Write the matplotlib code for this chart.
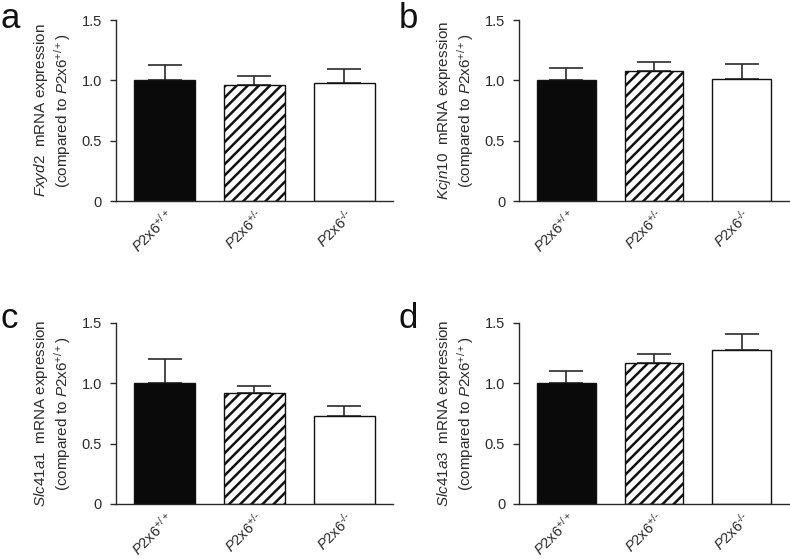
# P2x6 knockout - mRNA expression of four kidney genes
import numpy as np
import matplotlib
matplotlib.use("Agg")
import matplotlib.pyplot as plt

plt.rcParams['font.family'] = ['Liberation Sans', 'DejaVu Sans']
plt.rcParams['mathtext.fontset'] = 'custom'
plt.rcParams['mathtext.rm'] = 'Liberation Sans'
plt.rcParams['mathtext.it'] = 'Liberation Sans:italic'
plt.rcParams['hatch.linewidth'] = 1.8

# Data
genotypes = ['$\\mathit{P}\\mathrm{2x6}^{+/+}$',
             '$\\mathit{P}\\mathrm{2x6}^{+/\u2010}$',
             '$\\mathit{P}\\mathrm{2x6}^{\u2010/\u2010}$']
genes = ['Fxyd2', 'Kcjn10', 'Slc41a1', 'Slc41a3']
panel_letters = ['a', 'b', 'c', 'd']

fxyd2_mean = [1.00, 0.965, 0.98]
fxyd2_sem = [0.125, 0.075, 0.115]
kcjn10_mean = [1.00, 1.08, 1.013]
kcjn10_sem = [0.10, 0.07, 0.122]
slc41a1_mean = [1.00, 0.92, 0.732]
slc41a1_sem = [0.20, 0.058, 0.076]
slc41a3_mean = [1.00, 1.168, 1.278]
slc41a3_sem = [0.10, 0.075, 0.133]

means = [fxyd2_mean, kcjn10_mean, slc41a1_mean, slc41a3_mean]
sems = [fxyd2_sem, kcjn10_sem, slc41a1_sem, slc41a3_sem]

yticks = [0, 0.5, 1.0, 1.5]
ytick_labels = ['0', '0.5', '1.0', '1.5']

fill_colors = ['#0a0a0a', 'white', 'white']
hatches = [None, '///', None]

# axes boxes in figure fraction [left, bottom, width, height]
boxes = [[0.1468, 0.6404, 0.3506, 0.3238],
         [0.657, 0.6404, 0.3418, 0.3238],
         [0.1468, 0.0984, 0.3506, 0.3238],
         [0.657, 0.0984, 0.3418, 0.3238]]
letter_pos = [(0.0, 0.95), (0.505, 0.95), (0.0, 0.413), (0.505, 0.413)]

fig = plt.figure(figsize=(7.9, 5.59), dpi=100)
grey = '#2a2a2a'

for i in range(4):
    ax = fig.add_axes(boxes[i])
    x = np.arange(3)
    ax.bar(x, means[i], width=0.67, color=fill_colors, edgecolor='#111111',
           linewidth=1.0, hatch=hatches, zorder=2)
    ax.errorbar(x, means[i], yerr=[np.zeros(3), sems[i]], fmt='none',
                ecolor=grey, elinewidth=1.2, capsize=12.5, capthick=1.2, zorder=1)

    ax.set_ylim(0, 1.5)
    ax.set_xlim(-0.54, 2.54)
    ax.set_yticks(yticks)
    ax.set_yticklabels(ytick_labels)
    ax.set_xticks(x)
    ax.set_xticklabels(genotypes, rotation=45, ha='right', rotation_mode='anchor')
    ax.tick_params(axis='x', length=0, pad=4, labelsize=10.5, colors=grey)
    ax.tick_params(axis='y', length=4, width=1, pad=6, labelsize=10.5, colors=grey)
    for s in ['top', 'right']:
        ax.spines[s].set_visible(False)
    for s in ['left', 'bottom']:
        ax.spines[s].set_color(grey)
        ax.spines[s].set_linewidth(1.0)

    ax.set_ylabel(r'$\mathit{' + genes[i] + r'}$  mRNA expression' + '\n'
                  + r'(compared to $\mathit{P}\mathrm{2x6}^{+/+}$)',
                  fontsize=11, color=grey, labelpad=6, linespacing=1.15)

    fig.text(letter_pos[i][0], letter_pos[i][1], panel_letters[i],
             fontsize=25, va='baseline', ha='left', color='#111111')

plt.savefig('out.png', dpi=100)
